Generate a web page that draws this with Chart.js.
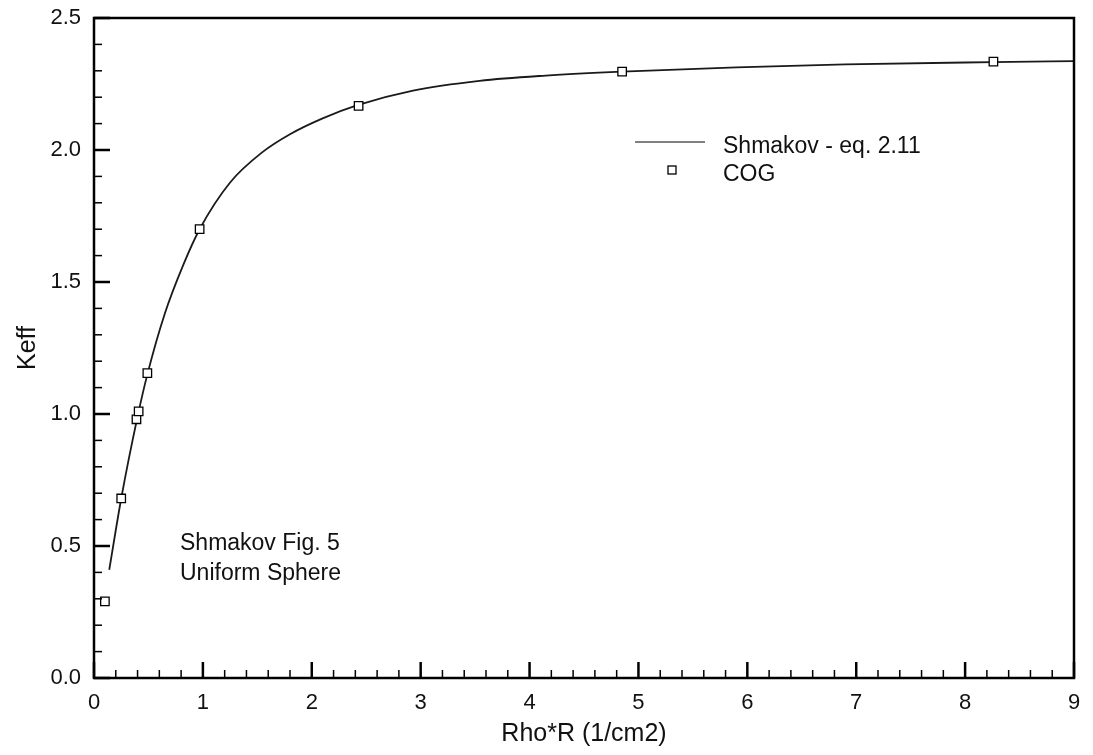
<!DOCTYPE html>
<html lang="en">
<head>
    <meta charset="UTF-8">
    <title>Keff vs Rho*R</title>
    <script src="https://cdn.jsdelivr.net/npm/chart.js"></script>
    <style>
        html, body { margin: 0; padding: 0; background: #fff; }
        .chart-container { position: relative; width: 1093px; height: 755px; }
    </style>
</head>
<body>
    <div class="chart-container">
        <canvas id="keffChart"></canvas>
    </div>

    <script>
        // Shmakov eq. 2.11 curve
        const curveX = [0.14, 0.25, 0.40, 0.49, 0.65, 0.82, 0.97, 1.25, 1.55, 1.80, 2.10, 2.42, 2.93, 3.54, 4.15, 4.85, 5.90, 6.90, 8.25, 9.00];
        const curveY = [0.41, 0.68, 0.99, 1.15, 1.38, 1.565, 1.70, 1.877, 1.993, 2.06, 2.12, 2.17, 2.225, 2.262, 2.282, 2.297, 2.313, 2.324, 2.333, 2.337];

        // COG points
        const cogX = [0.10, 0.25, 0.39, 0.41, 0.49, 0.97, 2.43, 4.85, 8.26];
        const cogY = [0.29, 0.68, 0.98, 1.01, 1.155, 1.70, 2.167, 2.297, 2.335];

        // tick labels
        const xTickLabels = [0, 1, 2, 3, 4, 5, 6, 7, 8, 9];
        const yTickLabels = [0.0, 0.5, 1.0, 1.5, 2.0, 2.5];

        const FONT = "'Liberation Sans', Arial, Helvetica, sans-serif";

        function isIn(list, v) {
            return list.some(t => Math.abs(t - v) < 1e-6);
        }

        // inward ticks, frame, titles, legend and note
        const frameTicks = {
            id: 'frameTicks',
            afterDraw(chart) {
                const ctx = chart.ctx;
                const a = chart.chartArea;
                const xs = chart.scales.x, ys = chart.scales.y;
                ctx.save();
                ctx.strokeStyle = '#000';
                xs.ticks.forEach(t => {
                    const px = xs.getPixelForValue(t.value);
                    const major = isIn(xTickLabels, t.value);
                    ctx.lineWidth = major ? 2.5 : 1.5;
                    ctx.beginPath();
                    ctx.moveTo(px, a.bottom);
                    ctx.lineTo(px, a.bottom - (major ? 16 : 8));
                    ctx.stroke();
                });
                ys.ticks.forEach(t => {
                    const py = ys.getPixelForValue(t.value);
                    const major = isIn(yTickLabels, t.value);
                    ctx.lineWidth = major ? 2.5 : 1.5;
                    ctx.beginPath();
                    ctx.moveTo(a.left, py);
                    ctx.lineTo(a.left + (major ? 16 : 8), py);
                    ctx.stroke();
                });
                ctx.lineWidth = 2.5;
                ctx.strokeRect(a.left, a.top, a.right - a.left, a.bottom - a.top);

                // axis titles
                ctx.fillStyle = '#111';
                ctx.font = '25px ' + FONT;
                ctx.textAlign = 'center';
                ctx.textBaseline = 'alphabetic';
                ctx.fillText('Rho*R (1/cm2)', (a.left + a.right) / 2, 741);
                ctx.save();
                ctx.translate(35, (a.top + a.bottom) / 2);
                ctx.rotate(-Math.PI / 2);
                ctx.fillText('Keff', 0, 0);
                ctx.restore();

                // legend
                ctx.font = '23px ' + FONT;
                ctx.textAlign = 'left';
                ctx.strokeStyle = '#808080';
                ctx.lineWidth = 2;
                ctx.beginPath();
                ctx.moveTo(635, 142);
                ctx.lineTo(705, 142);
                ctx.stroke();
                ctx.fillText('Shmakov - eq. 2.11', 723, 153);
                ctx.strokeStyle = '#000';
                ctx.lineWidth = 1.3;
                ctx.fillStyle = '#fff';
                ctx.fillRect(668, 166, 8, 8);
                ctx.strokeRect(668, 166, 8, 8);
                ctx.fillStyle = '#111';
                ctx.fillText('COG', 723, 181);

                // note
                ctx.fillText('Shmakov Fig. 5', 180, 550);
                ctx.fillText('Uniform Sphere', 180, 580);
                ctx.restore();
            }
        };

        const ctx = document.getElementById('keffChart').getContext('2d');
        new Chart(ctx, {
            type: 'scatter',
            data: {
                datasets: [
                    {
                        label: 'Shmakov - eq. 2.11',
                        data: curveX.map((x, i) => ({ x: x, y: curveY[i] })),
                        showLine: true,
                        borderColor: '#1a1a1a',
                        borderWidth: 1.8,
                        pointRadius: 0,
                        cubicInterpolationMode: 'monotone',
                        order: 2
                    },
                    {
                        label: 'COG',
                        data: cogX.map((x, i) => ({ x: x, y: cogY[i] })),
                        pointStyle: 'rect',
                        pointRadius: 6,
                        borderColor: '#000',
                        borderWidth: 1.3,
                        backgroundColor: '#fff',
                        order: 1
                    }
                ]
            },
            options: {
                responsive: true,
                maintainAspectRatio: false,
                animation: false,
                layout: { padding: { top: 18, right: 19, left: 0, bottom: 0 } },
                plugins: {
                    legend: { display: false },
                    tooltip: { enabled: false }
                },
                scales: {
                    x: {
                        type: 'linear',
                        min: 0,
                        max: 9,
                        grid: { display: false, drawTicks: false },
                        border: { display: false },
                        afterFit: scale => {
                            scale.height = 77;
                            scale.paddingLeft = 0;
                            scale.paddingRight = 0;
                        },
                        ticks: {
                            stepSize: 0.2,
                            autoSkip: false,
                            maxRotation: 0,
                            padding: 12,
                            color: '#111',
                            font: { family: FONT, size: 22 },
                            callback: v => isIn(xTickLabels, v) ? String(Math.round(v)) : ''
                        }
                    },
                    y: {
                        type: 'linear',
                        min: 0,
                        max: 2.5,
                        grid: { display: false, drawTicks: false },
                        border: { display: false },
                        afterFit: scale => {
                            scale.width = 94;
                            scale.paddingTop = 0;
                            scale.paddingBottom = 0;
                        },
                        ticks: {
                            stepSize: 0.1,
                            autoSkip: false,
                            padding: 13,
                            color: '#111',
                            font: { family: FONT, size: 22 },
                            callback: v => isIn(yTickLabels, v) ? v.toFixed(1) : ''
                        }
                    }
                }
            },
            plugins: [frameTicks]
        });
    </script>
</body>
</html>
